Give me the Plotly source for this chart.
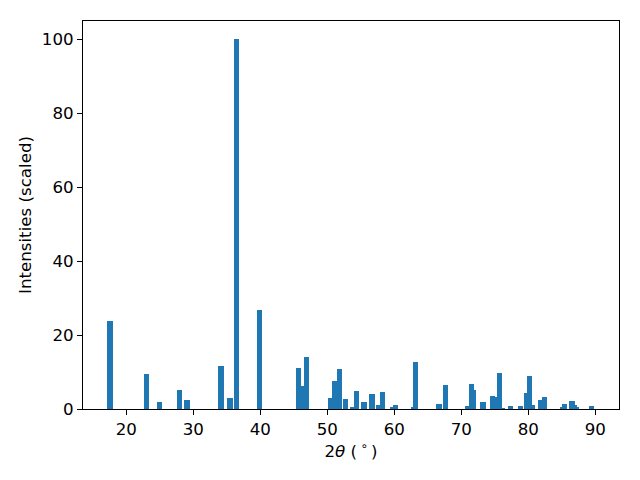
import plotly.graph_objects as go

two_theta = [17.57, 23.01, 24.96, 27.94, 29.06, 34.13, 35.48, 36.45, 39.88,
             45.70, 46.3, 46.9, 50.5, 51.1, 51.8, 52.7, 53.8, 54.36, 55.48,
             56.67, 57.64, 58.2, 59.76, 60.15, 62.9, 63.13, 66.65, 67.6,
             70.96, 71.55, 71.79, 73.24, 74.69, 75.0, 75.67, 76.1, 77.34,
             78.84, 79.76, 80.18, 80.6, 81.85, 82.39, 85.13, 85.37, 86.5,
             86.8, 87.16, 89.43]
intensity = [23.8, 9.5, 1.9, 5.15, 2.45, 11.65, 3.0, 100, 26.8,
             11.1, 6.2, 14.1, 3.0, 7.6, 10.8, 2.7, 0.5, 4.9, 1.9,
             4.1, 1.1, 4.6, 0.5, 1.1, 0.3, 12.7, 1.3, 6.5,
             0.8, 6.8, 5.1, 1.9, 3.5, 3.25, 9.75, 0.27, 0.8,
             0.8, 4.3, 8.9, 1.1, 2.4, 3.2, 0.5, 1.3, 2.2,
             1.1, 0.5, 0.8]
x_ticks = [20, 30, 40, 50, 60, 70, 80, 90]
y_ticks = [0, 20, 40, 60, 80, 100]

fig = go.Figure()
fig.add_trace(go.Bar(x=two_theta, y=intensity, width=[0.8] * len(two_theta),
                     marker=dict(color="#1f77b4", line=dict(width=0))))

font = dict(family="DejaVu Sans", size=16.67, color="black")
axis_common = dict(showgrid=False, zeroline=False, showline=True, linecolor="black",
                   linewidth=1, mirror=True, ticks="outside", ticklen=5, tickwidth=1,
                   tickcolor="black", tickfont=font, automargin=False)

fig.update_layout(
    width=624, height=464,
    margin=dict(l=75, r=13, t=13, b=63),
    paper_bgcolor="white", plot_bgcolor="white",
    barmode="overlay", bargap=0, showlegend=False,
    font=font,
    xaxis=dict(range=[13.54, 93.54], tickvals=x_ticks,
               title=dict(text="2<i>θ</i> (\u2009<sup>∘</sup>\u2009)", font=font, standoff=6),
               **axis_common),
    yaxis=dict(range=[0, 105], tickvals=y_ticks,
               title=dict(text="Intensities (scaled)", font=font, standoff=6),
               **axis_common),
)

fig.write_html("out.html")
